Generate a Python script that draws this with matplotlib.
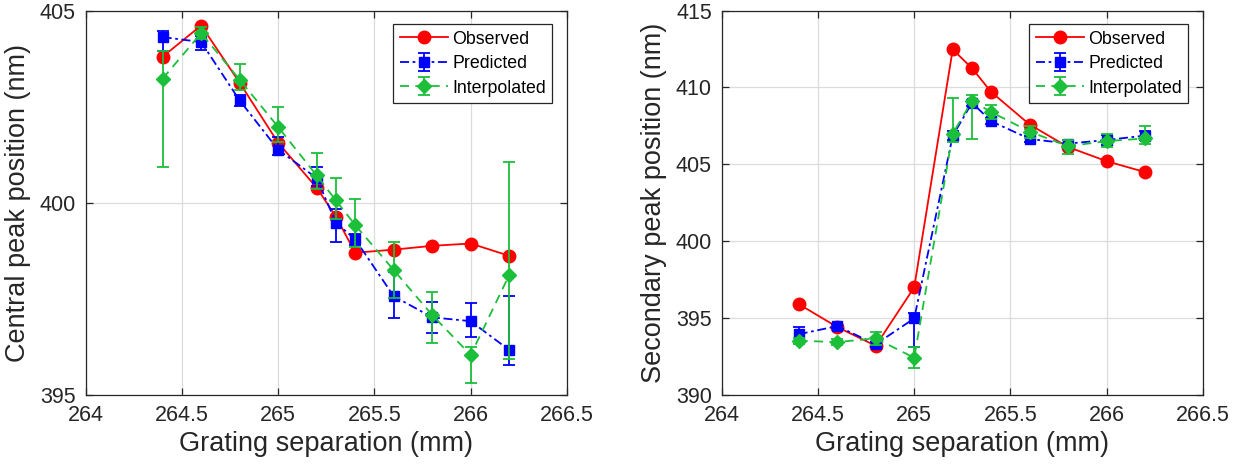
import matplotlib
matplotlib.use("Agg")
import matplotlib.pyplot as plt
from matplotlib.ticker import FuncFormatter

plt.rcParams['font.family'] = ['Liberation Sans', 'DejaVu Sans']

# ---------------- data ----------------
separation = [264.4, 264.6, 264.8, 265.0, 265.2, 265.3, 265.4, 265.6, 265.8, 266.0, 266.2]

central_observed = [403.80, 404.61, 403.12, 401.56, 400.39, 399.64, 398.70, 398.78, 398.88, 398.94, 398.62]
central_predicted = [404.31, 404.18, 402.66, 401.38, 400.64, 399.48, 399.05, 397.57, 397.02, 396.92, 396.17]
central_pred_lo = [0.35, 0.20, 0.15, 0.15, 0.20, 0.50, 0.15, 0.58, 0.40, 0.41, 0.39]
central_pred_hi = [0.17, 0.15, 0.15, 0.33, 0.29, 0.37, 0.15, 0.63, 0.40, 0.48, 1.41]
central_interp = [403.23, 404.41, 403.20, 401.97, 400.71, 400.06, 399.42, 398.25, 397.08, 396.04, 398.12]
central_interp_lo = [2.30, 0.15, 0.28, 0.39, 0.34, 0.47, 0.57, 0.73, 0.72, 0.74, 2.19]
central_interp_hi = [0.73, 0.15, 0.42, 0.52, 0.59, 0.59, 0.67, 0.73, 0.60, 0.21, 2.93]

secondary_observed = [395.91, 394.42, 393.20, 397.00, 412.47, 411.25, 409.70, 407.58, 406.12, 405.20, 404.49]
secondary_predicted = [393.95, 394.48, 393.30, 394.98, 406.85, 409.00, 407.80, 406.65, 406.35, 406.58, 406.87]
secondary_pred_lo = [0.50, 0.15, 0.15, 1.85, 0.30, 0.20, 0.20, 0.20, 0.20, 0.30, 0.30]
secondary_pred_hi = [0.50, 0.15, 0.15, 0.32, 0.30, 0.20, 0.20, 0.20, 0.20, 0.30, 0.30]
secondary_interp = [393.53, 393.44, 393.68, 392.42, 406.99, 409.12, 408.40, 407.12, 406.18, 406.51, 406.68]
secondary_interp_lo = [0.20, 0.20, 0.40, 0.69, 0.54, 2.50, 0.43, 0.40, 0.49, 0.39, 0.34]
secondary_interp_hi = [0.20, 0.20, 0.43, 0.70, 2.34, 0.36, 0.43, 0.40, 0.38, 0.48, 0.79]

x_ticks = [264, 264.5, 265, 265.5, 266, 266.5]
central_yticks = [395, 400, 405]
secondary_yticks = [390, 395, 400, 405, 410, 415]
series_names = ['Observed', 'Predicted', 'Interpolated']
x_label = 'Grating separation (mm)'
central_ylabel = 'Central peak position (nm)'
secondary_ylabel = 'Secondary peak position (nm)'

RED = '#ff0000'
BLUE = '#0000ff'
GREEN = '#1bbf3a'
AXC = '#262626'

fig = plt.figure(figsize=(12.56, 4.70), dpi=100)
ax1 = fig.add_axes([0.0682, 0.1596, 0.3832, 0.818])
ax2 = fig.add_axes([0.5746, 0.1596, 0.3832, 0.818])

def gfmt(v, pos):
    return '%g' % v

def draw(ax, obs, pred, plo, phi, interp, ilo, ihi, yticks, ylabel):
    ax.plot(separation, obs, '-', color=RED, lw=1.3, marker='o', ms=9,
            mfc=RED, mec=RED, label=series_names[0], zorder=3)
    c1 = ax.errorbar(separation, pred, yerr=[plo, phi], fmt='s', color=BLUE,
                     lw=1.3, ms=7.5, mfc=BLUE, mec=BLUE, elinewidth=1.3, capsize=4.2,
                     capthick=1.3, label=series_names[1], zorder=4)
    c1[0].set_linestyle((0, (5, 2, 1.5, 2)))
    c2 = ax.errorbar(separation, interp, yerr=[ilo, ihi], fmt='D', color=GREEN,
                     lw=1.3, ms=7.0, mfc=GREEN, mec=GREEN, elinewidth=1.3, capsize=4.2,
                     capthick=1.3, label=series_names[2], zorder=5)
    c2[0].set_linestyle((0, (5, 3.5)))
    ax.set_xlim(x_ticks[0], x_ticks[-1])
    ax.set_ylim(yticks[0], yticks[-1])
    ax.set_xticks(x_ticks)
    ax.set_yticks(yticks)
    ax.xaxis.set_major_formatter(FuncFormatter(gfmt))
    ax.yaxis.set_major_formatter(FuncFormatter(gfmt))
    ax.grid(True, color='#dcdcdc', lw=0.9)
    ax.set_axisbelow(True)
    for s in ax.spines.values():
        s.set_color(AXC)
        s.set_linewidth(0.9)
    ax.tick_params(direction='in', top=True, right=True, length=5, width=0.9,
                   colors=AXC, labelsize=15.5, pad=7)
    ax.set_xlabel(x_label, fontsize=19.5, color=AXC, labelpad=4)
    ax.set_ylabel(ylabel, fontsize=19.5, color=AXC, labelpad=6)
    leg = ax.legend(loc='upper right', bbox_to_anchor=(0.969, 0.964), borderaxespad=0,
                    fontsize=12.8, fancybox=False, framealpha=1, edgecolor=AXC,
                    handlelength=2.7, handletextpad=0.25, borderpad=0.35,
                    labelspacing=0.42)
    leg.get_frame().set_linewidth(0.9)

draw(ax1, central_observed, central_predicted, central_pred_lo, central_pred_hi,
     central_interp, central_interp_lo, central_interp_hi, central_yticks, central_ylabel)
draw(ax2, secondary_observed, secondary_predicted, secondary_pred_lo, secondary_pred_hi,
     secondary_interp, secondary_interp_lo, secondary_interp_hi, secondary_yticks, secondary_ylabel)

fig.savefig('out.png', dpi=100)
